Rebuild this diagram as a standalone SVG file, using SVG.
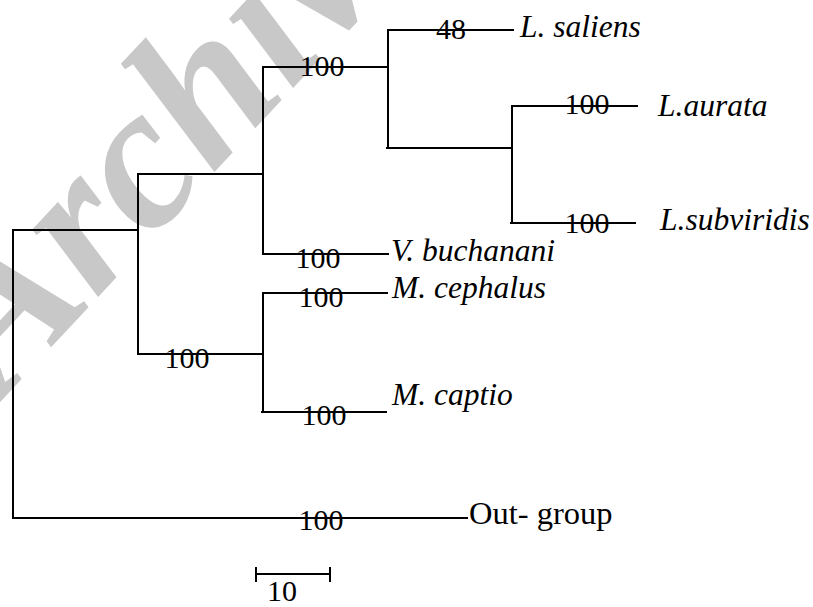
<svg xmlns="http://www.w3.org/2000/svg" width="813" height="607" viewBox="0 0 813 607">
<defs>
<style>
.br{stroke:#000;stroke-width:2;fill:none;stroke-linecap:square}
</style>
</defs>
<rect width="813" height="607" fill="#fff"/>
<text font-family="'Liberation Serif', 'DejaVu Serif', serif" font-weight="bold" font-style="italic" font-size="205" fill="#c8c8c8" transform="translate(2,400) rotate(-47)">Archive</text>
<g id="connectors" class="br">
<path d="M13,230V518"/>
<path d="M13,230H138"/>
<path d="M138,174V354"/>
<path d="M138,174H263"/>
<path d="M263,67V254"/>
<path d="M263,67H388"/>
<path d="M388,30V148"/>
<path d="M388,30H513"/>
<path d="M387,148H512"/>
<path d="M512,106V223"/>
<path d="M512,106H637"/>
<path d="M511,223H635"/>
<path d="M263,254H388"/>
<path d="M138,354H263"/>
<path d="M263,293V412"/>
<path d="M263,293H387"/>
<path d="M262,412H386"/>
<path d="M13,518H467"/>
</g>
<g id="bootstrap" font-family="'Liberation Serif', 'DejaVu Serif', serif" font-size="30" fill="#000" text-anchor="middle">
<text x="322" y="76">100</text>
<text x="451" y="39">48</text>
<text x="587" y="114">100</text>
<text x="587" y="233">100</text>
<text x="318" y="268">100</text>
<text x="321" y="307">100</text>
<text x="187" y="368">100</text>
<text x="324" y="425">100</text>
<text x="321" y="530">100</text>
</g>
<g font-family="'Liberation Serif', 'DejaVu Serif', serif" font-size="31.5" fill="#000" font-style="italic">
<g id="n-saliens"><text x="520" y="37">L. saliens</text></g>
<g id="n-aurata"><text x="658" y="116">L.aurata</text></g>
<g id="n-subviridis"><text x="660" y="230">L.subviridis</text></g>
<g id="n-buchanani"><text x="391" y="261">V. buchanani</text></g>
<g id="n-cephalus"><text x="392" y="298">M. cephalus</text></g>
<g id="n-captio"><text x="392" y="405">M. captio</text></g>
<g id="n-outgroup"><text x="469" y="524" font-style="normal" font-size="32.5">Out- group</text></g>
</g>
<g id="scale" class="br">
<path d="M256,574H330"/>
<path d="M256,568V581"/>
<path d="M330,568V581"/>
</g>
<text x="282" y="601" font-family="'Liberation Serif', 'DejaVu Serif', serif" font-size="30" fill="#000" text-anchor="middle">10</text>
</svg>
